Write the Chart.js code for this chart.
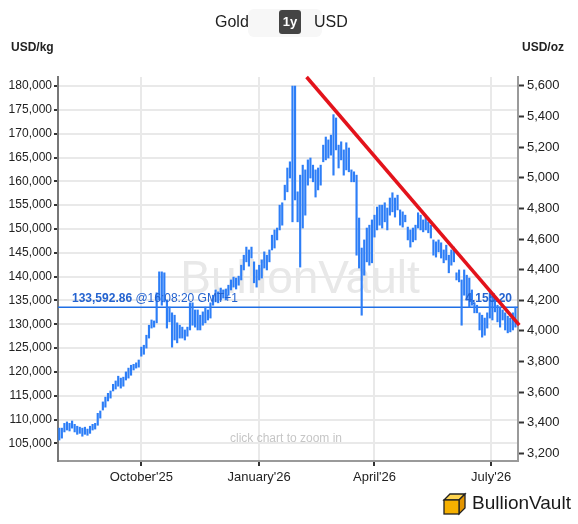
<!DOCTYPE html>
<html>
<head>
<meta charset="utf-8">
<script src="https://cdn.jsdelivr.net/npm/chart.js@4.4.1/dist/chart.umd.min.js"></script>
<style>
  html, body { margin: 0; padding: 0; background: #fff; }
  #wrap { position: relative; width: 578px; height: 524px; font-family: Arial, "Liberation Sans", sans-serif; color: #222; }
  #wrap canvas { position: absolute; left: 0; top: 0; }
  .txt { position: absolute; white-space: nowrap; }
  .hdr { top: 11px; font-size: 16px; line-height: 22px; }
  .pill { position: absolute; left: 248px; top: 9px; width: 74px; height: 28px; border-radius: 6px; background: #f7f7f7; }
  .range { left: 279px; top: 10px; width: 22px; height: 24px; line-height: 24px; border-radius: 3px; background: #444; color: #fff; font-weight: bold; font-size: 13px; text-align: center; }
  .unit { top: 40px; font-size: 12px; font-weight: bold; line-height: 14px; }
  .logo { left: 472px; top: 491px; font-size: 19px; line-height: 24px; color: #1a1a1a; }
</style>
</head>
<body>
<div id="wrap">
  <canvas id="chart" width="578" height="524"></canvas>
  <div class="pill"></div>
  <div class="txt hdr" style="left:215px">Gold</div>
  <div class="txt range">1y</div>
  <div class="txt hdr" style="left:314px">USD</div>
  <div class="txt unit" style="left:11px">USD/kg</div>
  <div class="txt unit" style="left:522px">USD/oz</div>
  <svg class="txt" style="left:442px;top:491px" width="25" height="25" viewBox="0 0 25 25">
    <polygon points="2,9 8,3 23,3 17,9" fill="#ffd44f" stroke="#222" stroke-width="1.3"/>
    <polygon points="17,9 23,3 23,17 17,23" fill="#e39500" stroke="#222" stroke-width="1.3"/>
    <rect x="2" y="9" width="15" height="14" fill="#f6b000" stroke="#222" stroke-width="1.3"/>
  </svg>
  <div class="txt logo">BullionVault</div>
</div>
<script>
const DAY = 86400000;
const ts = s => Date.parse(s + 'T00:00:00Z');

// one high-low bar every 2 days, starting here
const firstBarDate = '2025-07-29';
const barStepDays = 2;

// daily range in USD/kg
const highs = [
  108200, 108200, 109200, 109500, 109200, 109700, 109000, 108600, 108400, 108200,
  108400, 108000, 108600, 109000, 109200, 111300, 111800, 113700, 114700, 115500,
  116000, 117400, 118100, 119100, 118700, 118900, 120000, 120800, 121400, 121600,
  121900, 122500, 125200, 125600, 127700, 129800, 130900, 130700, 136600, 141000,
  141000, 140800, 135100, 133600, 132400, 131900, 130300, 129800, 129400, 128800,
  129400, 134500, 134500, 133000, 133000, 131900, 132600, 133600, 133000, 134500,
  136100, 137200, 136800, 137600, 137200, 137400, 138200, 139300, 139900, 139700,
  140100, 142400, 144500, 146200, 145600, 146200, 143100, 141400, 142400, 143500,
  145200, 144500, 145600, 148700, 149800, 150200, 155000, 155500, 159200, 162800,
  164100, 180000, 180000, 157800, 161300, 163400, 162400, 164500, 164900, 163400,
  162400, 162800, 163400, 167600, 169300, 168700, 169700, 174000, 173300, 167600,
  168300, 166600, 168100, 167000, 162400, 162000, 161300, 152300, 146000, 147700,
  150200, 150800, 151900, 152900, 154600, 155000, 155000, 155500, 154400, 156500,
  157600, 156500, 157100, 154000, 153600, 152900, 150400, 149800, 150200, 150800,
  153400, 152900, 151900, 152500, 151500, 150800, 147700, 147300, 147700, 147100,
  145600, 146600, 144500, 145600, 146200, 140800, 141400, 139300, 141400, 140300,
  139700, 137200, 134500, 134000, 132400, 131900, 131300, 132400, 136600, 136100,
  135500, 134000, 133600, 133000, 132400, 131700, 131300, 132400, 133600
];
const lows = [
  105700, 106100, 107400, 107800, 107600, 108200, 107400, 106900, 107100, 106500,
  106900, 106700, 107100, 107800, 108000, 108800, 110300, 112000, 112600, 113900,
  114500, 116000, 116400, 117000, 116600, 117000, 118300, 118700, 119300, 120400,
  120800, 121000, 123300, 123700, 125000, 127100, 129200, 129400, 130300, 135100,
  134000, 134700, 129200, 130500, 125200, 126700, 126100, 127100, 127100, 126700,
  127500, 128800, 129800, 129400, 128800, 128800, 129800, 130300, 130900, 131300,
  134000, 134700, 134500, 135100, 135500, 135100, 136100, 137200, 137800, 137400,
  138200, 139300, 141400, 143100, 142200, 143900, 138700, 137800, 139300, 139700,
  141800, 141400, 143100, 145600, 146000, 147700, 149800, 150800, 156100, 157800,
  160700, 151500, 156100, 151500, 142000, 150200, 152900, 159200, 160700, 159900,
  156700, 158200, 159200, 164100, 164500, 164900, 165500, 161300, 166600, 162800,
  164500, 161300, 162400, 162000, 159900, 159900, 144500, 141800, 131900, 140300,
  143100, 142400, 142900, 148300, 149800, 150800, 150200, 151500, 149800, 152900,
  153600, 152500, 154000, 150800, 150400, 151500, 147700, 146200, 147300, 147700,
  150200, 149800, 149400, 149800, 149200, 148100, 144500, 144100, 145200, 143900,
  142900, 143500, 140800, 142400, 143100, 139300, 138900, 129800, 136100, 135100,
  133600, 134000, 132400, 132400, 128800, 127300, 127700, 129200, 131300, 130900,
  132600, 130500, 129400, 130900, 128800, 128200, 128400, 128800, 129400
];

const axisStart = '2025-07-28';
const axisEnd = '2026-07-22';
const monthTicks = ['2025-10-01', '2026-01-01', '2026-04-01', '2026-07-01'];
const monthLabels = ["October'25", "January'26", "April'26", "July'26"];

const yMinKg = 101300;
const yMaxKg = 181900;
const kgTicks = [105000, 110000, 115000, 120000, 125000, 130000, 135000, 140000,
                 145000, 150000, 155000, 160000, 165000, 170000, 175000, 180000];
const ozTicks = [3200, 3400, 3600, 3800, 4000, 4200, 4400, 4600, 4800, 5000, 5200, 5400, 5600];
const OZ_PER_KG = 32.1507466;

const lastPrice = 133592.86;
const lastTime = '@16:08:20 GMT+1';

// resistance line drawn on the chart
const trendDates = ['2026-02-07', '2026-07-23'];
const trendValues = [181900, 129800];

const FONT = 'Arial, "Liberation Sans", sans-serif';
const BLUE = '#2d7ef7';

const barData = highs.map((h, i) => ({
  x: ts(firstBarDate) + i * barStepDays * DAY,
  y: [lows[i], h]
}));

const fmt = v => Number(v).toLocaleString('en-US');
const fmt2 = v => v.toLocaleString('en-US', { minimumFractionDigits: 2, maximumFractionDigits: 2 });

const overlay = {
  id: 'overlay',
  beforeDatasetsDraw(chart) {
    const { ctx, chartArea: a, scales } = chart;
    ctx.save();
    ctx.textAlign = 'center';
    ctx.textBaseline = 'alphabetic';
    ctx.fillStyle = '#e8e8e8';
    ctx.font = '46px ' + FONT;
    ctx.fillText('BullionVault', (a.left + a.right) / 2 + 12, 293);
    ctx.fillStyle = '#c6c6c6';
    ctx.font = '12px ' + FONT;
    ctx.fillText('click chart to zoom in', (a.left + a.right) / 2 - 2, 442);

    const y = scales.y.getPixelForValue(lastPrice);
    ctx.strokeStyle = '#1f6fe5';
    ctx.lineWidth = 1.5;
    ctx.beginPath();
    ctx.moveTo(a.left, y);
    ctx.lineTo(a.right, y);
    ctx.stroke();
    ctx.restore();
  },
  afterDatasetDraw(chart, args) {
    if (args.index !== 1) return;
    const { ctx, chartArea: a, scales } = chart;
    const y = scales.y.getPixelForValue(lastPrice) - 8;
    ctx.save();
    ctx.fillStyle = '#2463d0';
    ctx.textBaseline = 'middle';
    ctx.textAlign = 'left';
    ctx.font = 'bold 12px ' + FONT;
    const main = fmt2(lastPrice);
    ctx.fillText(main, a.left + 14, y);
    const w = ctx.measureText(main + ' ').width;
    ctx.font = '12px ' + FONT;
    ctx.fillText(lastTime, a.left + 14 + w, y);
    ctx.font = 'bold 12px ' + FONT;
    ctx.textAlign = 'right';
    ctx.fillText(fmt2(lastPrice / OZ_PER_KG), a.right - 6, y);
    ctx.restore();
  }
};

new Chart(document.getElementById('chart'), {
  type: 'bar',
  data: {
    datasets: [
      {
        type: 'line',
        data: trendDates.map((d, i) => ({ x: ts(d), y: trendValues[i] })),
        borderColor: '#e3131b',
        borderWidth: 3.5,
        pointRadius: 0,
        clip: false,
        order: 0
      },
      {
        data: barData,
        backgroundColor: BLUE,
        barThickness: 1.5,
        order: 1
      }
    ]
  },
  options: {
    responsive: false,
    animation: false,
    devicePixelRatio: 1,
    layout: { padding: { top: 77, left: 0, right: 0, bottom: 0 } },
    plugins: { legend: { display: false }, tooltip: { enabled: false } },
    scales: {
      x: {
        type: 'linear',
        offset: false,
        min: ts(axisStart),
        max: ts(axisEnd),
        afterBuildTicks: s => { s.ticks = monthTicks.map(d => ({ value: ts(d) })); },
        afterFit: s => { s.height = 63; },
        grid: { offset: false, color: '#e9e9e9', lineWidth: 2, tickLength: 5, tickColor: '#333', tickWidth: 2 },
        border: { display: true, color: '#9a9a9a', width: 2 },
        ticks: {
          autoSkip: false, maxRotation: 0, padding: 4,
          color: '#222', font: { family: FONT, size: 13 },
          callback: (v, i) => monthLabels[i]
        }
      },
      y: {
        position: 'left',
        min: yMinKg,
        max: yMaxKg,
        afterBuildTicks: s => { s.ticks = kgTicks.map(v => ({ value: v })); },
        afterFit: s => { s.width = 58; },
        grid: { color: '#e9e9e9', lineWidth: 2, tickLength: 4, tickColor: '#333', tickWidth: 2 },
        border: { display: true, color: '#777', width: 2 },
        ticks: {
          autoSkip: false, padding: 2,
          color: '#222', font: { family: FONT, size: 12 },
          callback: v => fmt(v)
        }
      },
      yOz: {
        position: 'right',
        min: yMinKg / OZ_PER_KG,
        max: yMaxKg / OZ_PER_KG,
        afterBuildTicks: s => { s.ticks = ozTicks.map(v => ({ value: v })); },
        afterFit: s => { s.width = 60; },
        grid: { drawOnChartArea: false, tickLength: 6, tickColor: '#333', tickWidth: 2 },
        border: { display: true, color: '#9a9a9a', width: 2 },
        ticks: {
          autoSkip: false, padding: 3,
          color: '#222', font: { family: FONT, size: 13 },
          callback: v => fmt(v)
        }
      }
    }
  },
  plugins: [overlay]
});
</script>
</body>
</html>
